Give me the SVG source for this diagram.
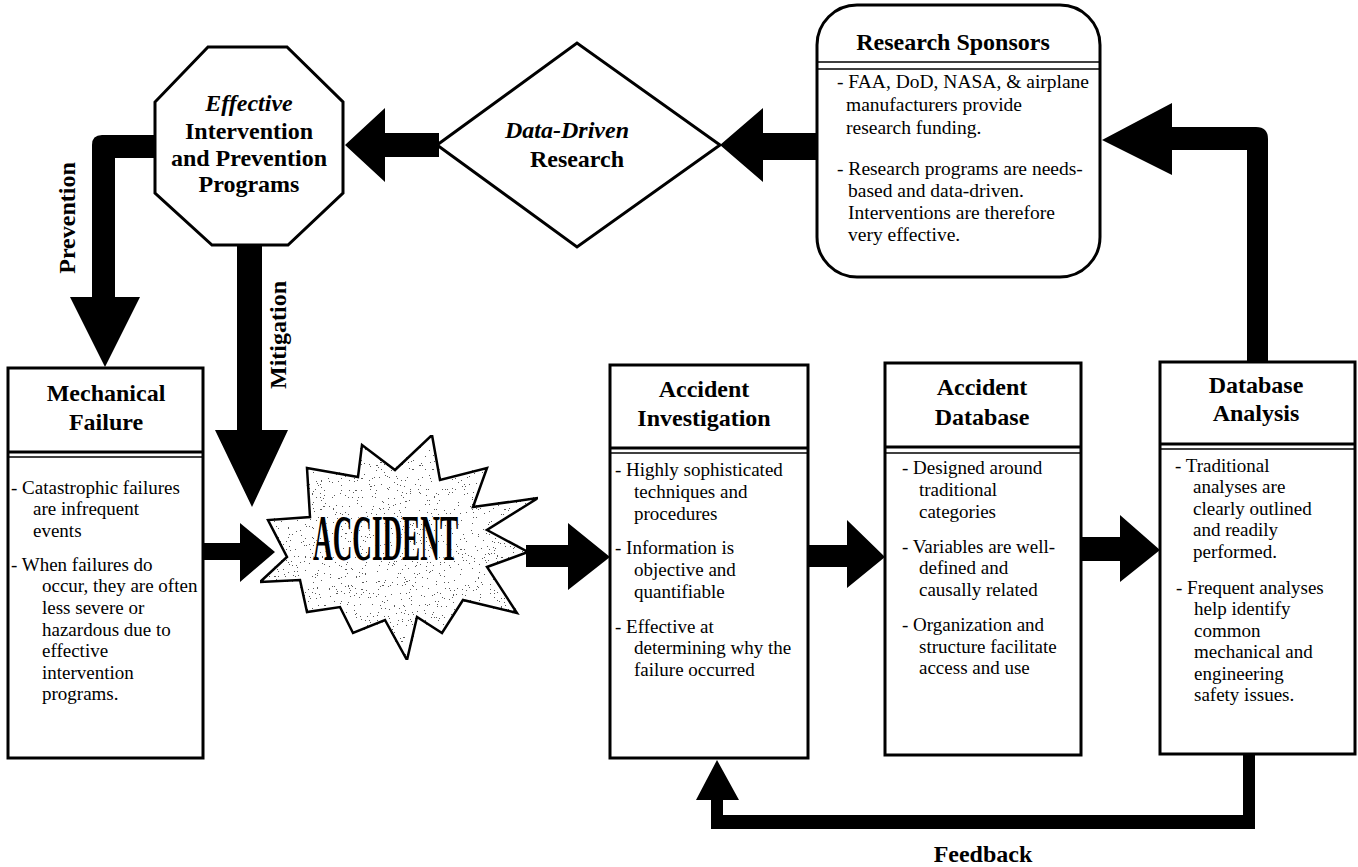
<svg xmlns="http://www.w3.org/2000/svg" width="1358" height="867" viewBox="0 0 1358 867">
<style>
.box{fill:#fff;stroke:#000;stroke-width:3}
.sep{stroke:#000;stroke-width:3}
.sep2{stroke:#000;stroke-width:1.5}
.hdr{font-family:"Liberation Serif","Times New Roman",serif;font-weight:bold;font-size:24px;text-anchor:middle;fill:#000}
.it{font-style:italic}
.body{font-family:"Liberation Serif","Times New Roman",serif;font-size:19px;fill:#000}
.pre{white-space:pre}
.lbl{font-family:"Liberation Serif","Times New Roman",serif;font-weight:bold;font-size:24px;text-anchor:middle;fill:#000}
.arrow{fill:#000;stroke:none}
</style>
<defs>
<filter id="speckle" x="0" y="0" width="1" height="1">
<feTurbulence type="fractalNoise" baseFrequency="0.75" numOctaves="2" seed="7" result="n"/>
<feColorMatrix in="n" type="matrix" values="0 0 0 0 0  0 0 0 0 0  0 0 0 0 0  1 0 0 0 0" result="a"/>
<feComponentTransfer in="a" result="d">
<feFuncA type="discrete" tableValues="0.9 0.9 0 0 0 0 0"/>
</feComponentTransfer>
<feComposite in="d" in2="SourceGraphic" operator="in" result="dots"/>
<feMerge><feMergeNode in="SourceGraphic"/><feMergeNode in="dots"/></feMerge>
</filter>
</defs>
<rect width="1358" height="867" fill="#fff"/>

<g id="connectors">
<path class="arrow" d="M157,135 L102,135 Q92,135 92,145 L92,297 L70,297 L105,367 L140,297 L115,297 L115,158 L157,158 Z"/>
<path class="arrow" d="M237,243 L262,243 L262,430 L288,430 L252,507 L215,430 L237,430 Z"/>
<path class="arrow" d="M439,133 L385,133 L385,108 L345,145 L385,182 L385,157 L439,157 Z"/>
<path class="arrow" d="M819,133 L763,133 L763,108 L720,145 L763,182 L763,160 L819,160 Z"/>
<path class="arrow" d="M1247,363 L1247,150 L1172,150 L1172,175 L1102,140 L1172,103 L1172,127 L1256,127 Q1268,127 1268,139 L1268,363 Z"/>
<path class="arrow" d="M203,543 L240,543 L240,523 L275,552 L240,582 L240,560 L203,560 Z"/>
<path class="arrow" d="M526,545 L568,545 L568,523 L610,557 L568,590 L568,567 L526,567 Z"/>
<path class="arrow" d="M808,545 L847,545 L847,520 L885,557 L847,588 L847,567 L808,567 Z"/>
<path class="arrow" d="M1081,537 L1120,537 L1120,515 L1160,550 L1120,582 L1120,561 L1081,561 Z"/>
<path class="arrow" d="M1243,754 L1255,754 L1255,829 L711,829 L711,800 L696,800 L717,760 L739,800 L723,800 L723,815 L1243,815 Z"/>
</g>

<g id="octagon">
<polygon class="box" points="208,47 287,47 343,102 343,193 288,245 212,245 155,193 155,102"/>
<text class="hdr it" x="249" y="111">Effective</text>
<text class="hdr" x="249" y="139">Intervention</text>
<text class="hdr" x="249" y="166">and Prevention</text>
<text class="hdr" x="249" y="192">Programs</text>
</g>

<g id="datadriven">
<polygon class="box" points="437,145 577,43 720,145 577,247"/>
<text class="hdr it" x="567" y="138">Data-Driven</text>
<text class="hdr" x="577" y="167">Research</text>
</g>

<g id="sponsors">
<rect class="box" x="817" y="5" width="283" height="272" rx="40" ry="40"/>
<text class="hdr" x="953" y="50">Research Sponsors</text>
<line class="sep2" x1="817" y1="62" x2="1100" y2="62"/>
<line class="sep2" x1="817" y1="69" x2="1100" y2="69"/>
<g class="body pre" style="font-size:19.5px">
<text x="837" y="88">- FAA, DoD, NASA, &amp; airplane</text>
<text x="846" y="111">manufacturers  provide</text>
<text x="846" y="134">research funding.</text>
<text x="837" y="175">- Research  programs are needs-</text>
<text x="848" y="197">based and data-driven.</text>
<text x="848" y="219">Interventions are therefore</text>
<text x="848" y="241">very effective.</text>
</g>
</g>

<g id="mechanical">
<rect class="box" x="8" y="368" width="195" height="390"/>
<line class="sep" x1="8" y1="452" x2="203" y2="452"/>
<line class="sep2" x1="8" y1="457" x2="203" y2="457"/>
<text class="hdr" x="106" y="401">Mechanical</text>
<text class="hdr" x="106" y="430">Failure</text>
<g class="body">
<text x="11" y="494">- Catastrophic failures</text>
<text x="33" y="515">are infrequent</text>
<text x="33" y="537">events</text>
<text x="11" y="571">- When failures do</text>
<text x="42" y="592">occur, they are often</text>
<text x="42" y="614">less severe or</text>
<text x="42" y="636">hazardous due to</text>
<text x="42" y="657">effective</text>
<text x="42" y="679">intervention</text>
<text x="42" y="700">programs.</text>
</g>
</g>

<g id="accident">
<polygon points="307,468 358,477 362,445 395,470 432,435 440,480 487,468 473,507 538,498 487,530 528,552 487,567 517,613 463,600 442,633 417,617 407,660 385,620 353,633 340,607 307,612 300,580 260,582 287,557 268,520 310,517" fill="#fff" stroke="#000" stroke-width="2.5" filter="url(#speckle)"/>
<text transform="translate(313,560) scale(0.412,1)" x="0" y="0" font-family="'Liberation Serif','Times New Roman',serif" font-weight="bold" font-size="66" fill="#000" stroke="#fff" stroke-width="2" paint-order="stroke">ACCIDENT</text>
</g>

<g id="investigation">
<rect class="box" x="610" y="365" width="198" height="393"/>
<line class="sep" x1="610" y1="448" x2="808" y2="448"/>
<line class="sep2" x1="610" y1="453" x2="808" y2="453"/>
<text class="hdr" x="704" y="397">Accident</text>
<text class="hdr" x="704" y="426">Investigation</text>
<g class="body">
<text x="615" y="476">- Highly sophisticated</text>
<text x="634" y="498">techniques and</text>
<text x="634" y="520">procedures</text>
<text x="615" y="554">- Information is</text>
<text x="634" y="576">objective and</text>
<text x="634" y="598">quantifiable</text>
<text x="615" y="633">- Effective at</text>
<text x="634" y="654">determining why the</text>
<text x="634" y="676">failure occurred</text>
</g>
</g>

<g id="database">
<rect class="box" x="885" y="363" width="196" height="392"/>
<line class="sep" x1="885" y1="447" x2="1081" y2="447"/>
<line class="sep2" x1="885" y1="453" x2="1081" y2="453"/>
<text class="hdr" x="982" y="395">Accident</text>
<text class="hdr" x="982" y="425">Database</text>
<g class="body">
<text x="902" y="474">- Designed around</text>
<text x="919" y="496">traditional</text>
<text x="919" y="518">categories</text>
<text x="902" y="553">- Variables are well-</text>
<text x="919" y="574">defined and</text>
<text x="919" y="596">causally related</text>
<text x="902" y="631">- Organization and</text>
<text x="919" y="653">structure facilitate</text>
<text x="919" y="674">access and use</text>
</g>
</g>

<g id="analysis">
<rect class="box" x="1160" y="362" width="195" height="392"/>
<line class="sep" x1="1160" y1="444" x2="1355" y2="444"/>
<line class="sep2" x1="1160" y1="449" x2="1355" y2="449"/>
<text class="hdr" x="1256" y="393">Database</text>
<text class="hdr" x="1256" y="421">Analysis</text>
<g class="body pre">
<text x="1175" y="472">-  Traditional</text>
<text x="1193" y="493">analyses are</text>
<text x="1193" y="515">clearly outlined</text>
<text x="1193" y="536">and readily</text>
<text x="1193" y="558">performed.</text>
<text x="1176" y="594">- Frequent analyses</text>
<text x="1194" y="615">help  identify</text>
<text x="1194" y="637">common</text>
<text x="1194" y="658">mechanical and</text>
<text x="1194" y="680">engineering</text>
<text x="1194" y="701">safety issues.</text>
</g>
</g>

<g id="labels">
<text class="lbl" transform="translate(75,218) rotate(-90)">Prevention</text>
<text class="lbl" transform="translate(286,335) rotate(-90)">Mitigation</text>
<text class="lbl" x="983" y="862">Feedback</text>
</g>
</svg>
